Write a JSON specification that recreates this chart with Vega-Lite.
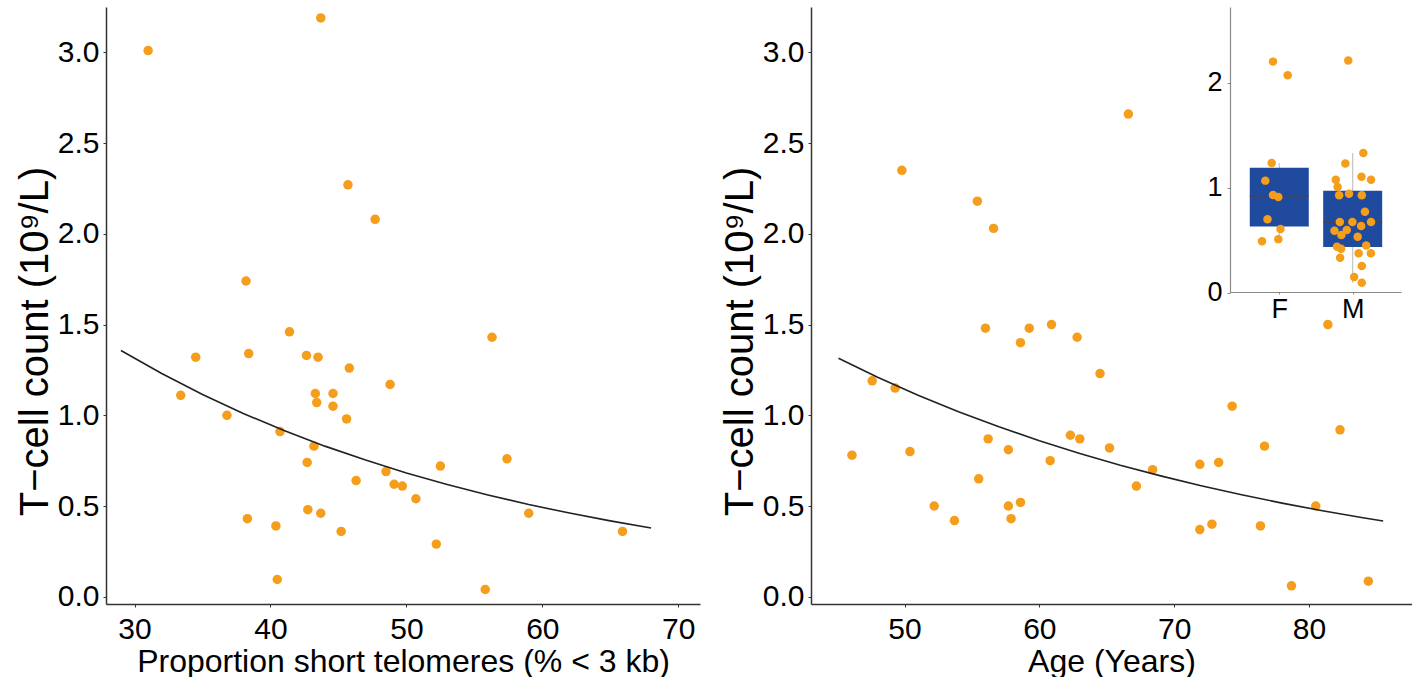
{
  "$schema": "https://vega.github.io/schema/vega-lite/v6.json",
  "padding": {"left": 15, "top": 7, "right": 0, "bottom": 0},
  "background": "white",
  "config": {
    "view": {"stroke": null},
    "font": "Liberation Sans",
    "axis": {
      "grid": false,
      "labelFont": "Liberation Sans",
      "labelFontSize": 30,
      "labelColor": "black",
      "titleFont": "Liberation Sans",
      "titleFontSize": 32,
      "titleFontWeight": "normal",
      "titleColor": "black",
      "domainColor": "#333333",
      "domainWidth": 1.5,
      "tickColor": "#333333",
      "tickSize": 3,
      "labelPadding": 4
    }
  },
  "datasets": {
    "telo": [
      {"telo": 31.0, "tcell": 3.01}, {"telo": 43.7, "tcell": 3.19}, {"telo": 45.7, "tcell": 2.27},
      {"telo": 47.7, "tcell": 2.08}, {"telo": 38.2, "tcell": 1.74}, {"telo": 41.4, "tcell": 1.46},
      {"telo": 56.3, "tcell": 1.43}, {"telo": 34.5, "tcell": 1.32}, {"telo": 38.4, "tcell": 1.34},
      {"telo": 42.65, "tcell": 1.33}, {"telo": 43.5, "tcell": 1.32}, {"telo": 45.8, "tcell": 1.26},
      {"telo": 48.8, "tcell": 1.17}, {"telo": 33.4, "tcell": 1.11}, {"telo": 43.3, "tcell": 1.12},
      {"telo": 44.6, "tcell": 1.12}, {"telo": 43.4, "tcell": 1.07}, {"telo": 44.6, "tcell": 1.05},
      {"telo": 36.8, "tcell": 1.00}, {"telo": 45.6, "tcell": 0.98}, {"telo": 40.7, "tcell": 0.91},
      {"telo": 43.2, "tcell": 0.83}, {"telo": 42.7, "tcell": 0.74}, {"telo": 57.4, "tcell": 0.76},
      {"telo": 52.5, "tcell": 0.72}, {"telo": 48.5, "tcell": 0.69}, {"telo": 46.3, "tcell": 0.64},
      {"telo": 49.1, "tcell": 0.62}, {"telo": 49.7, "tcell": 0.61}, {"telo": 50.7, "tcell": 0.54},
      {"telo": 38.3, "tcell": 0.43}, {"telo": 42.75, "tcell": 0.48}, {"telo": 43.7, "tcell": 0.46},
      {"telo": 59.0, "tcell": 0.46}, {"telo": 40.4, "tcell": 0.39}, {"telo": 45.2, "tcell": 0.36},
      {"telo": 65.9, "tcell": 0.36}, {"telo": 52.2, "tcell": 0.29}, {"telo": 40.5, "tcell": 0.095},
      {"telo": 55.8, "tcell": 0.04}
    ],
    "telofit": [
      {"telo": 29, "tcell": 1.357}, {"telo": 32, "tcell": 1.230}, {"telo": 35, "tcell": 1.115},
      {"telo": 38, "tcell": 1.010}, {"telo": 41, "tcell": 0.916}, {"telo": 44, "tcell": 0.830},
      {"telo": 47, "tcell": 0.753}, {"telo": 50, "tcell": 0.682}, {"telo": 53, "tcell": 0.619},
      {"telo": 56, "tcell": 0.561}, {"telo": 59, "tcell": 0.508}, {"telo": 62, "tcell": 0.461},
      {"telo": 65, "tcell": 0.418}, {"telo": 68, "tcell": 0.379}
    ],
    "age": [
      {"age": 46.1, "tcell": 0.78}, {"age": 47.6, "tcell": 1.19}, {"age": 49.3, "tcell": 1.15},
      {"age": 49.8, "tcell": 2.35}, {"age": 50.4, "tcell": 0.80}, {"age": 52.2, "tcell": 0.50},
      {"age": 53.7, "tcell": 0.42}, {"age": 55.4, "tcell": 2.18}, {"age": 55.5, "tcell": 0.65},
      {"age": 56.6, "tcell": 2.03}, {"age": 56.0, "tcell": 1.48}, {"age": 56.2, "tcell": 0.87},
      {"age": 57.7, "tcell": 0.81}, {"age": 57.7, "tcell": 0.50}, {"age": 57.9, "tcell": 0.43},
      {"age": 58.6, "tcell": 0.52}, {"age": 58.6, "tcell": 1.40}, {"age": 59.25, "tcell": 1.48},
      {"age": 60.9, "tcell": 1.50}, {"age": 60.8, "tcell": 0.75}, {"age": 62.3, "tcell": 0.89},
      {"age": 63.0, "tcell": 0.87}, {"age": 62.8, "tcell": 1.43}, {"age": 64.5, "tcell": 1.23},
      {"age": 65.2, "tcell": 0.82}, {"age": 66.6, "tcell": 2.66}, {"age": 67.2, "tcell": 0.61},
      {"age": 68.4, "tcell": 0.70}, {"age": 71.9, "tcell": 0.37}, {"age": 71.9, "tcell": 0.73},
      {"age": 72.8, "tcell": 0.40}, {"age": 73.3, "tcell": 0.74}, {"age": 74.3, "tcell": 1.05},
      {"age": 76.4, "tcell": 0.39}, {"age": 76.7, "tcell": 0.83}, {"age": 78.7, "tcell": 0.06},
      {"age": 80.5, "tcell": 0.50}, {"age": 81.4, "tcell": 1.50}, {"age": 82.3, "tcell": 0.92},
      {"age": 84.4, "tcell": 0.086}
    ],
    "agefit": [
      {"age": 45.1, "tcell": 1.314}, {"age": 48, "tcell": 1.210}, {"age": 51, "tcell": 1.111},
      {"age": 54, "tcell": 1.020}, {"age": 57, "tcell": 0.937}, {"age": 60, "tcell": 0.860},
      {"age": 63, "tcell": 0.790}, {"age": 66, "tcell": 0.725}, {"age": 69, "tcell": 0.666},
      {"age": 72, "tcell": 0.612}, {"age": 75, "tcell": 0.562}, {"age": 78, "tcell": 0.516},
      {"age": 81, "tcell": 0.474}, {"age": 84, "tcell": 0.435}, {"age": 85.5, "tcell": 0.417}
    ],
    "box": [
      {"sex": "F", "pos": 1, "lower": 0.49, "q1": 0.63, "median": 0.92, "q3": 1.19, "upper": 1.235},
      {"sex": "M", "pos": 2, "lower": 0.095, "q1": 0.435, "median": 0.67, "q3": 0.97, "upper": 1.33}
    ],
    "inset": [
      {"sex": "F", "pos": 0.915, "tcell": 2.20}, {"sex": "F", "pos": 1.115, "tcell": 2.07},
      {"sex": "F", "pos": 0.897, "tcell": 1.235}, {"sex": "F", "pos": 0.81, "tcell": 1.067},
      {"sex": "F", "pos": 0.915, "tcell": 0.93}, {"sex": "F", "pos": 0.987, "tcell": 0.91},
      {"sex": "F", "pos": 0.84, "tcell": 0.70}, {"sex": "F", "pos": 1.017, "tcell": 0.606},
      {"sex": "F", "pos": 0.765, "tcell": 0.49}, {"sex": "F", "pos": 0.987, "tcell": 0.51},
      {"sex": "M", "pos": 1.94, "tcell": 2.21}, {"sex": "M", "pos": 2.145, "tcell": 1.33},
      {"sex": "M", "pos": 1.90, "tcell": 1.23}, {"sex": "M", "pos": 2.12, "tcell": 1.105},
      {"sex": "M", "pos": 2.25, "tcell": 1.076}, {"sex": "M", "pos": 1.77, "tcell": 1.076},
      {"sex": "M", "pos": 1.795, "tcell": 1.006}, {"sex": "M", "pos": 1.816, "tcell": 0.927},
      {"sex": "M", "pos": 1.95, "tcell": 0.943}, {"sex": "M", "pos": 2.124, "tcell": 0.927},
      {"sex": "M", "pos": 2.167, "tcell": 0.771}, {"sex": "M", "pos": 1.825, "tcell": 0.673},
      {"sex": "M", "pos": 1.996, "tcell": 0.673}, {"sex": "M", "pos": 2.25, "tcell": 0.673},
      {"sex": "M", "pos": 2.115, "tcell": 0.635}, {"sex": "M", "pos": 1.752, "tcell": 0.59},
      {"sex": "M", "pos": 1.919, "tcell": 0.597}, {"sex": "M", "pos": 1.846, "tcell": 0.549},
      {"sex": "M", "pos": 2.068, "tcell": 0.533}, {"sex": "M", "pos": 2.184, "tcell": 0.45},
      {"sex": "M", "pos": 1.786, "tcell": 0.438}, {"sex": "M", "pos": 1.842, "tcell": 0.419},
      {"sex": "M", "pos": 2.081, "tcell": 0.375}, {"sex": "M", "pos": 2.248, "tcell": 0.375},
      {"sex": "M", "pos": 1.829, "tcell": 0.333}, {"sex": "M", "pos": 2.124, "tcell": 0.254},
      {"sex": "M", "pos": 2.02, "tcell": 0.149}, {"sex": "M", "pos": 2.124, "tcell": 0.095}
    ]
  },
  "spacing": 20,
  "hconcat": [
    {
      "width": 594,
      "height": 597,
      "layer": [
        {
          "data": {"name": "telo"},
          "mark": {"type": "circle", "size": 90, "color": "#F59E1B", "opacity": 1},
          "encoding": {
            "x": {"field": "telo", "type": "quantitative",
              "scale": {"domain": [27.9, 71.6], "nice": false, "zero": false},
              "axis": {"values": [30, 40, 50, 60, 70], "title": "Proportion short telomeres (% < 3 kb)", "labelPadding": 7, "titlePadding": 2}},
            "y": {"field": "tcell", "type": "quantitative",
              "scale": {"domain": [-0.04, 3.25], "nice": false, "zero": false},
              "axis": {"values": [0, 0.5, 1, 1.5, 2, 2.5, 3], "format": ".1f", "title": "T−cell count (10⁹/L)", "titleFontSize": 40, "titlePadding": 2, "titleY": 334}}
          }
        },
        {
          "data": {"name": "telofit"},
          "mark": {"type": "line", "color": "#222222", "strokeWidth": 1.6},
          "encoding": {
            "x": {"field": "telo", "type": "quantitative"},
            "y": {"field": "tcell", "type": "quantitative"}
          }
        }
      ]
    },
    {
      "width": 601,
      "height": 597,
      "layer": [
        {
          "layer": [
            {
              "data": {"name": "age"},
              "mark": {"type": "circle", "size": 90, "color": "#F59E1B", "opacity": 1},
              "encoding": {
                "x": {"field": "age", "type": "quantitative",
                  "scale": {"domain": [43.06, 87.64], "nice": false, "zero": false},
                  "axis": {"values": [50, 60, 70, 80], "title": "Age (Years)", "labelPadding": 7, "titlePadding": 2}},
                "y": {"field": "tcell", "type": "quantitative",
                  "scale": {"domain": [-0.04, 3.25], "nice": false, "zero": false},
                  "axis": {"values": [0, 0.5, 1, 1.5, 2, 2.5, 3], "format": ".1f", "title": "T−cell count (10⁹/L)", "titleFontSize": 40, "titlePadding": 2, "titleY": 334}}
              }
            },
            {
              "data": {"name": "agefit"},
              "mark": {"type": "line", "color": "#222222", "strokeWidth": 1.6},
              "encoding": {
                "x": {"field": "age", "type": "quantitative"},
                "y": {"field": "tcell", "type": "quantitative"}
              }
            }
          ]
        },
        {
          "layer": [
            {
              "data": {"name": "box"},
              "mark": {"type": "rule", "color": "#c4c4c4", "strokeWidth": 1.2},
              "encoding": {
                "x": {"field": "pos", "type": "quantitative",
                  "scale": {"domain": [0.397, 2.59], "range": [419, 590], "nice": false, "zero": false},
                  "axis": {"orient": "bottom", "offset": -312, "values": [1, 2], "labelExpr": "datum.value == 1 ? 'F' : 'M'", "title": null, "labelFontSize": 27, "labelPadding": 2, "tickSize": 2, "domainColor": "#8a8a8a", "tickColor": "#8a8a8a", "domainWidth": 1.2}},
                "y": {"field": "lower", "type": "quantitative",
                  "scale": {"domain": [0, 2.72], "range": [285.7, 0], "nice": false, "zero": false},
                  "axis": {"orient": "left", "offset": -419, "values": [0, 1, 2], "format": "d", "title": null, "labelFontSize": 27, "labelPadding": 5, "tickSize": 3, "domainColor": "#8a8a8a", "tickColor": "#8a8a8a", "domainWidth": 1.2}},
                "y2": {"field": "upper"}
              }
            },
            {
              "data": {"name": "box"},
              "mark": {"type": "bar", "size": 59, "color": "#1F4A9E"},
              "encoding": {
                "x": {"field": "pos", "type": "quantitative"},
                "y": {"field": "q1", "type": "quantitative"},
                "y2": {"field": "q3"}
              }
            },
            {
              "data": {"name": "box"},
              "mark": {"type": "tick", "orient": "horizontal", "size": 59, "thickness": 1.3, "color": "#3c4660", "opacity": 1},
              "encoding": {
                "x": {"field": "pos", "type": "quantitative"},
                "y": {"field": "median", "type": "quantitative"}
              }
            },
            {
              "data": {"name": "inset"},
              "mark": {"type": "circle", "size": 72, "color": "#F59E1B", "opacity": 1},
              "encoding": {
                "x": {"field": "pos", "type": "quantitative"},
                "y": {"field": "tcell", "type": "quantitative"}
              }
            }
          ]
        }
      ],
      "resolve": {"scale": {"x": "independent", "y": "independent"}}
    }
  ]
}
